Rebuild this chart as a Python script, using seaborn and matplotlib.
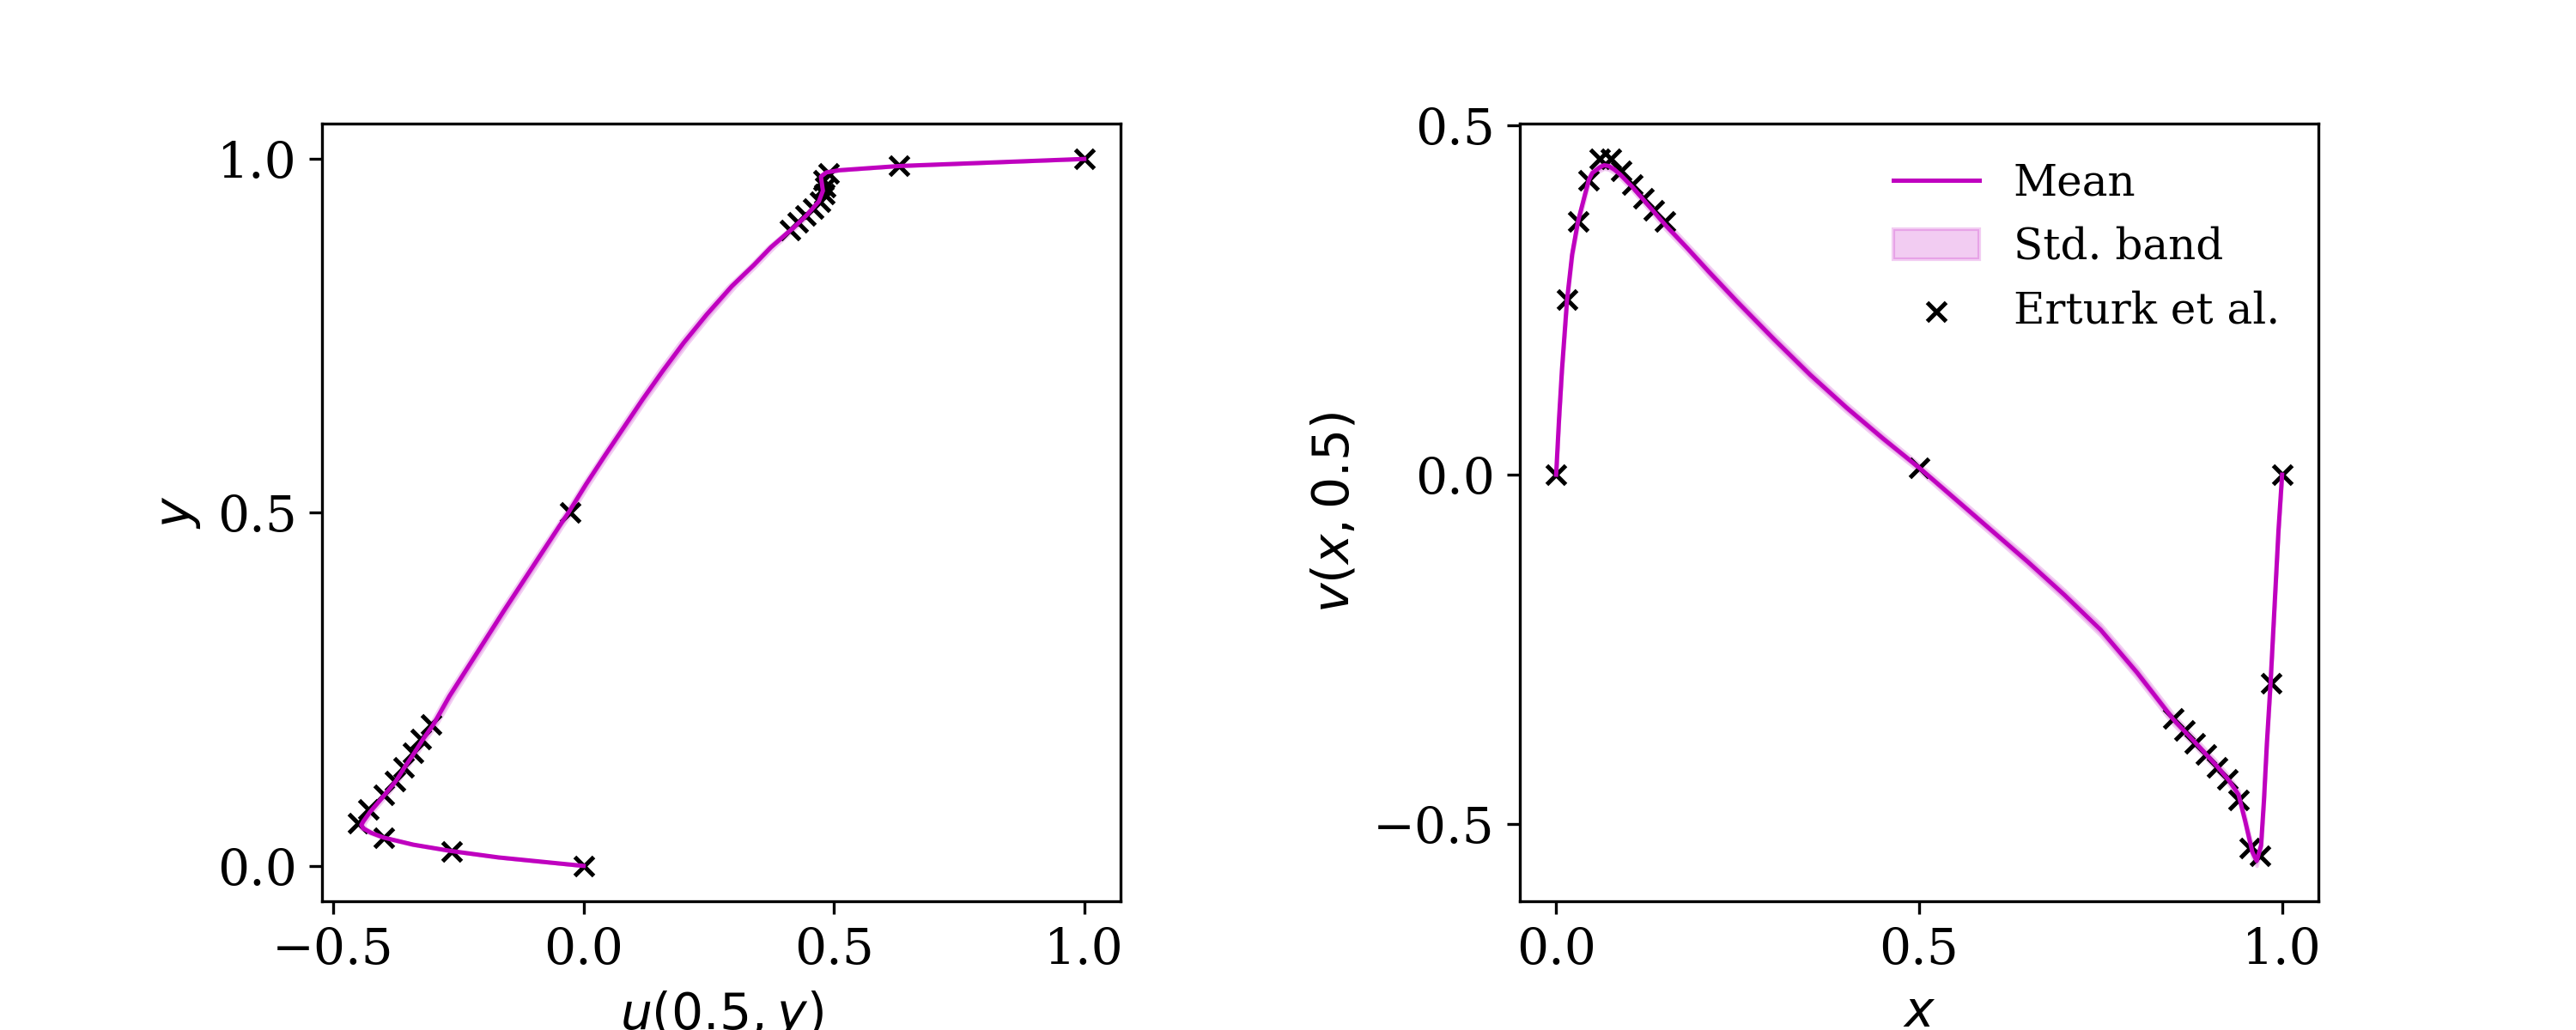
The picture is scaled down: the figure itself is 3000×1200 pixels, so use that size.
import numpy as np
import pandas as pd
import seaborn as sns
import matplotlib.pyplot as plt

## reference data (Erturk et al.), u along x = 0.5
erturk_y = [0.00, 0.02, 0.04, 0.06, 0.08, 0.10, 0.12, 0.14, 0.16, 0.18, 0.20, 0.50,
            0.90, 0.91, 0.92, 0.93, 0.94, 0.95, 0.96, 0.97, 0.98, 0.99, 1.00]
erturk_u = [0.000, -0.264, -0.399, -0.450, -0.430, -0.399, -0.376, -0.360, -0.341, -0.325, -0.305, -0.027,
            0.413, 0.428, 0.443, 0.458, 0.473, 0.481, 0.483, 0.479, 0.489, 0.630, 1.000]

## reference data (Erturk et al.), v along y = 0.5
erturk_x = [0.000, 0.015, 0.030, 0.045, 0.060, 0.075, 0.090, 0.105, 0.120, 0.135, 0.150, 0.500,
            0.850, 0.865, 0.880, 0.895, 0.910, 0.925, 0.940, 0.955, 0.970, 0.985, 1.000]
erturk_v = [0.000, 0.251, 0.362, 0.421, 0.452, 0.452, 0.435, 0.415, 0.396, 0.378, 0.362, 0.010,
            -0.349, -0.366, -0.384, -0.401, -0.419, -0.436, -0.465, -0.534, -0.546, -0.298, 0.000]

## model mean + std
mean_y = [0.000, 0.006, 0.012, 0.021, 0.030, 0.040, 0.047, 0.053, 0.058, 0.063, 0.076,
          0.100, 0.120, 0.140, 0.160, 0.180, 0.200, 0.240, 0.280, 0.320, 0.360, 0.400,
          0.440, 0.480, 0.500, 0.540, 0.580, 0.620, 0.660, 0.700, 0.740, 0.780, 0.820,
          0.850, 0.875, 0.902, 0.920, 0.940, 0.955, 0.965, 0.975, 0.981, 0.984, 0.990, 1.000]
mean_u = [0.000, -0.085, -0.170, -0.264, -0.340, -0.399, -0.425, -0.440, -0.444, -0.440, -0.427,
          -0.398, -0.375, -0.357, -0.338, -0.320, -0.300, -0.268, -0.232, -0.196, -0.160, -0.123,
          -0.086, -0.049, -0.030, 0.005, 0.042, 0.080, 0.118, 0.158, 0.200, 0.246, 0.296,
          0.340, 0.374, 0.418, 0.445, 0.470, 0.478, 0.476, 0.474, 0.485, 0.510, 0.630, 1.000]
std_u = [0.000, 0.002, 0.003, 0.003, 0.004, 0.004, 0.005, 0.005, 0.005, 0.005, 0.005,
         0.005, 0.005, 0.005, 0.006, 0.006, 0.006, 0.007, 0.007, 0.007, 0.007, 0.007,
         0.007, 0.006, 0.006, 0.006, 0.006, 0.007, 0.007, 0.008, 0.008, 0.008, 0.007,
         0.006, 0.006, 0.005, 0.004, 0.004, 0.004, 0.004, 0.004, 0.004, 0.004, 0.003, 0.000]

mean_x = [0.000, 0.004, 0.008, 0.015, 0.022, 0.030, 0.045, 0.050, 0.060, 0.066, 0.072,
          0.080, 0.088, 0.105, 0.120, 0.150, 0.180, 0.210, 0.250, 0.300, 0.350, 0.400,
          0.450, 0.500, 0.550, 0.600, 0.650, 0.700, 0.750, 0.800, 0.850, 0.880, 0.910,
          0.927, 0.940, 0.949, 0.959, 0.965, 0.971, 0.975, 0.979, 0.984, 0.990, 0.995, 1.000]
mean_v = [0.000, 0.080, 0.150, 0.250, 0.315, 0.362, 0.422, 0.432, 0.440, 0.443, 0.442,
          0.437, 0.430, 0.412, 0.394, 0.358, 0.325, 0.291, 0.247, 0.194, 0.143, 0.096,
          0.052, 0.010, -0.035, -0.080, -0.125, -0.172, -0.222, -0.283, -0.350, -0.383, -0.417,
          -0.438, -0.458, -0.495, -0.540, -0.553, -0.531, -0.466, -0.385, -0.300, -0.180, -0.080, 0.000]
std_v = [0.000, 0.003, 0.004, 0.004, 0.005, 0.005, 0.005, 0.005, 0.005, 0.005, 0.005,
         0.005, 0.005, 0.005, 0.005, 0.006, 0.006, 0.007, 0.007, 0.007, 0.007, 0.006,
         0.006, 0.005, 0.006, 0.006, 0.007, 0.007, 0.008, 0.008, 0.007, 0.006, 0.006,
         0.006, 0.006, 0.006, 0.007, 0.007, 0.006, 0.005, 0.005, 0.004, 0.004, 0.003, 0.000]

df_u = pd.DataFrame({'u': mean_u, 'y': mean_y, 'std': std_u})
df_v = pd.DataFrame({'x': mean_x, 'v': mean_v, 'std': std_v})
ref_u = pd.DataFrame({'u': erturk_u, 'y': erturk_y})
ref_v = pd.DataFrame({'x': erturk_x, 'v': erturk_v})

plt.rcParams['font.family'] = ['DejaVu Serif']
plt.rcParams['mathtext.fontset'] = 'dejavusans'
plt.rcParams['font.size'] = 14

fig, (ax1, ax2) = plt.subplots(1, 2, figsize=(10, 4))
fig.subplots_adjust(left=0.125, right=0.9, top=0.88, bottom=0.125, wspace=0.5)

# left: u(0.5, y)
sns.lineplot(data=df_u, x='u', y='y', sort=False, estimator=None,
             color='m', lw=1.2, label='Mean', ax=ax1)
ax1.fill_betweenx(df_u['y'], df_u['u'] - df_u['std'], df_u['u'] + df_u['std'],
                  color='m', alpha=0.2, label='Std. band')
sns.scatterplot(data=ref_u, x='u', y='y', marker='x', color='k',
                s=28, linewidth=1.2, label='Erturk et al.', ax=ax1)
ax1.set(xlabel='$u(0.5, y)$', ylabel='$y$')
if ax1.get_legend():
	ax1.get_legend().remove()

# right: v(x, 0.5)
sns.lineplot(data=df_v, x='x', y='v', sort=False, estimator=None,
             color='m', lw=1.2, label='Mean', ax=ax2)
ax2.fill_between(df_v['x'], df_v['v'] - df_v['std'], df_v['v'] + df_v['std'],
                 color='m', alpha=0.2, label='Std. band')
sns.scatterplot(data=ref_v, x='x', y='v', marker='x', color='k',
                s=28, linewidth=1.2, label='Erturk et al.', ax=ax2)
ax2.set(xlabel='$x$', ylabel='$v(x, 0.5)$')
ax2.legend(frameon=False, loc='upper right', fontsize=12)

ax1.set_xticks([-0.5, 0.0, 0.5, 1.0])
ax1.set_yticks([0.0, 0.5, 1.0])
ax2.set_xticks([0.0, 0.5, 1.0])
ax2.set_yticks([-0.5, 0.0, 0.5])

fig.savefig('out.png', dpi=300)
